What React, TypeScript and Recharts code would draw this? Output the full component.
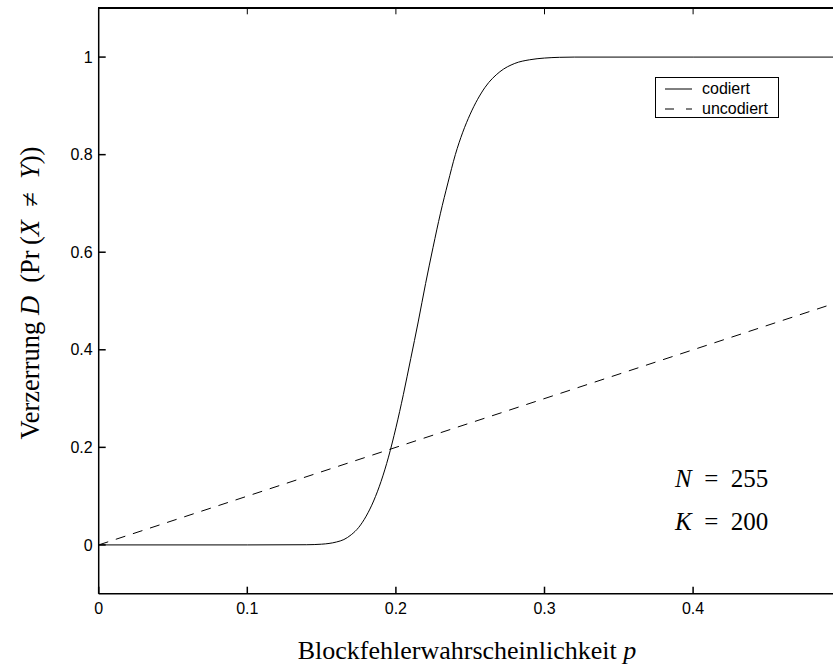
import React from "react";
import { Legend, Line, LineChart, XAxis, YAxis } from "recharts";

// Blockfehlerwahrscheinlichkeit p
const pValues = [
  0, 0.05, 0.1, 0.14, 0.15, 0.16, 0.165, 0.17, 0.175, 0.18, 0.185, 0.19, 0.195,
  0.2, 0.205, 0.21, 0.215, 0.22, 0.225, 0.23, 0.235, 0.24, 0.245, 0.25, 0.26,
  0.27, 0.28, 0.29, 0.3, 0.31, 0.32, 0.4, 0.5,
];

// Verzerrung D, codiert (N = 255, K = 200)
const coded = [
  0, 0, 0, 0.0004, 0.0015, 0.006, 0.011, 0.021, 0.036, 0.059, 0.09, 0.13, 0.18,
  0.24, 0.308, 0.382, 0.457, 0.536, 0.61, 0.68, 0.742, 0.8, 0.846, 0.883, 0.938,
  0.97, 0.987, 0.9945, 0.998, 0.9995, 1, 1, 1,
];

// uncodiert
const uncodedP = [0, 0.5];
const uncodedD = [0, 0.5];

const xTicks = [0, 0.1, 0.2, 0.3, 0.4];
const yTicks = [0, 0.2, 0.4, 0.6, 0.8, 1];
const xDomain = [0, 0.5];

const seriesNames = ["codiert", "uncodiert"];

const codedData = pValues.map((p, i) => ({ p, coded: coded[i] }));
const uncodedData = uncodedP.map((p, i) => ({ p, uncoded: uncodedD[i] }));

const sans = "'Liberation Sans', Arial, Helvetica, sans-serif";
const serif = "'Liberation Serif', 'Times New Roman', Times, serif";
const tickFont = { fill: "#000", fontSize: 16, fontFamily: sans };

// plot box (matches the chart margins below)
const W = 860;
const H = 666;
const M = { top: 8.3, right: 18.3, bottom: 42.3, left: 0 };
const Y_AXIS_W = 98.7;
const plotLeft = M.left + Y_AXIS_W;
const plotRight = W - M.right;
const plotTop = M.top;
const xPx = (v: number) =>
  plotLeft + ((v - xDomain[0]) / (xDomain[1] - xDomain[0])) * (plotRight - plotLeft);

function LegendBox() {
  return (
    <div
      style={{
        border: "1px solid #000",
        background: "#fff",
        width: 122,
        height: 39,
        boxSizing: "content-box",
      }}
    >
      <svg width={122} height={39} style={{ display: "block" }}>
        <line x1={9} x2={36} y1={11} y2={11} stroke="#000" strokeWidth={1} />
        <line
          x1={9}
          x2={36}
          y1={31}
          y2={31}
          stroke="#000"
          strokeWidth={1}
          strokeDasharray="9 12"
        />
        <text x={46} y={16} fontSize={16} fontFamily={sans} fill="#000">
          {seriesNames[0]}
        </text>
        <text x={46} y={36} fontSize={16} fontFamily={sans} fill="#000">
          {seriesNames[1]}
        </text>
      </svg>
    </div>
  );
}

export default function App() {
  return (
    <div
      style={{
        position: "absolute",
        left: 0,
        top: 0,
        width: 833,
        height: 666,
        overflow: "hidden",
        background: "#fff",
      }}
    >
      <LineChart width={W} height={H} margin={M}>
        <XAxis
          dataKey="p"
          type="number"
          domain={xDomain}
          ticks={xTicks}
          allowDataOverflow
          height={30}
          tickSize={-7}
          tickMargin={16}
          tick={tickFont}
          tickFormatter={(v: number) => String(v)}
          stroke="#000"
          strokeWidth={1.5}
        />
        <YAxis
          type="number"
          domain={[-0.1, 1.1]}
          ticks={yTicks}
          allowDataOverflow
          width={Y_AXIS_W}
          tickSize={-7}
          tickMargin={13}
          tick={tickFont}
          tickFormatter={(v: number) => String(v)}
          stroke="#000"
          strokeWidth={1.5}
        />
        <Legend
          layout="vertical"
          align="center"
          verticalAlign="middle"
          wrapperStyle={{ left: 655, top: 77, width: 124, height: 41 }}
          content={() => <LegendBox />}
        />
        <Line
          data={uncodedData}
          dataKey="uncoded"
          name={seriesNames[1]}
          type="linear"
          stroke="#000"
          strokeWidth={1}
          strokeDasharray="10 8"
          dot={false}
          activeDot={false}
          isAnimationActive={false}
        />
        <Line
          data={codedData}
          dataKey="coded"
          name={seriesNames[0]}
          type="monotone"
          stroke="#000"
          strokeWidth={1}
          dot={false}
          activeDot={false}
          isAnimationActive={false}
        />
      </LineChart>
      {/* top frame with mirrored ticks */}
      <div
        style={{
          position: "absolute",
          left: plotLeft - 0.75,
          top: plotTop - 1,
          width: plotRight - plotLeft,
          height: 2,
          background: "#000",
          zIndex: 5,
        }}
      />
      <svg
        width={833}
        height={666}
        style={{ position: "absolute", left: 0, top: 0, pointerEvents: "none", zIndex: 6 }}
      >
        {xTicks.slice(1).map((t) => (
          <line
            key={t}
            x1={xPx(t)}
            x2={xPx(t)}
            y1={plotTop}
            y2={plotTop + 6}
            stroke="#000"
            strokeWidth={1}
          />
        ))}
        <text
          x={467}
          y={659}
          textAnchor="middle"
          fontFamily={serif}
          fontSize={26}
          fill="#000"
        >
          Blockfehlerwahrscheinlichkeit <tspan fontStyle="italic">p</tspan>
        </text>
        <text
          transform="translate(39,293) rotate(-90)"
          textAnchor="middle"
          fontFamily={serif}
          fontSize={26.5}
          fill="#000"
        >
          Verzerrung <tspan fontStyle="italic">D</tspan>
          {"\u2002(Pr\u2009("}
          <tspan fontStyle="italic">X</tspan>
          {"\u2002≠\u2002"}
          <tspan fontStyle="italic">Y</tspan>
          {"))"}
        </text>
        <text x={675} y={487} fontFamily={serif} fontSize={25} fill="#000">
          <tspan fontStyle="italic">N</tspan>
          {"\u2002=\u2002255"}
        </text>
        <text x={675} y={530} fontFamily={serif} fontSize={25} fill="#000">
          <tspan fontStyle="italic">K</tspan>
          {"\u2002=\u2002200"}
        </text>
      </svg>
    </div>
  );
}
